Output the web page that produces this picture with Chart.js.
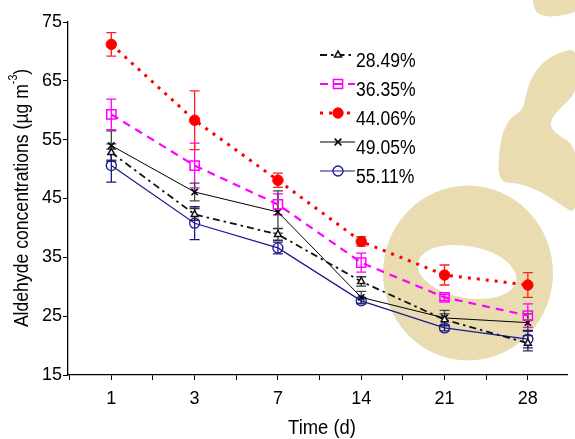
<!DOCTYPE html>
<html><head><meta charset="utf-8">
<script src="https://cdn.jsdelivr.net/npm/chart.js@4/dist/chart.umd.min.js"></script>
<style>html,body{margin:0;padding:0;background:#fff}#wrap{width:575px;height:439px}</style>
</head><body><div id="wrap"><canvas id="c" width="575" height="439"></canvas></div>
<script>
// ---- data ----
const days = ['1', '3', '7', '14', '21', '28'];
const seriesNames = ['28.49%', '36.35%', '44.06%', '49.05%', '55.11%'];
const v2849 = [52.8, 42.3, 38.9, 30.9, 24.4, 20.4];
const v3635 = [59.3, 50.6, 44.0, 34.1, 28.2, 25.1];
const v4406 = [71.2, 58.3, 48.1, 37.7, 32.0, 30.3];
const v4905 = [54.0, 46.1, 42.7, 28.2, 24.7, 23.9];
const v5511 = [50.6, 40.8, 36.6, 27.6, 23.0, 21.1];
const e2849 = [1.5, 1.0, 1.0, 0.8, 1.0, 1.3];
const e3635 = [2.6, 3.8, 1.8, 1.6, 0.5, 2.0];
const e4406 = [2.0, 5.0, 1.2, 0.8, 1.7, 2.1];
const e4905 = [2.5, 1.5, 3.6, 1.0, 1.3, 1.5];
const e5511 = [2.8, 2.8, 1.0, 0.5, 0.5, 1.5];
const yTicks = [15, 25, 35, 45, 55, 65, 75];

const FONT = '"Liberation Sans", Arial, sans-serif';
const toPts = arr => arr.map((y, i) => ({x: i, y: y}));

const styles = [
  {color: '#111111', width: 1.8, dash: [7, 4, 2.5, 4], point: 'triangle', r: 4, fill: '#ffffff', pbw: 1.5, ebar: '#333333'},
  {color: '#ff00ff', width: 2.2, dash: [8, 6], point: 'rect', r: 6.5, fill: 'rgba(0,0,0,0)', pbw: 1.5, ebar: '#ff00ff'},
  {color: '#ff0000', width: 3, dash: [3, 6], point: 'circle', r: 5.2, fill: '#ff0000', pbw: 1, ebar: '#ff2020'},
  {color: '#000000', width: 1, dash: [], point: 'crossRot', r: 4.5, fill: '#000000', pbw: 1.5, ebar: '#444444'},
  {color: '#1a1a8c', width: 1.2, dash: [], point: 'circle', r: 5, fill: 'rgba(0,0,0,0)', pbw: 1.3, ebar: '#1a1a8c'}
];
const values = [v2849, v3635, v4406, v4905, v5511];
const errors = [e2849, e3635, e4406, e4905, e5511];

const datasets = values.map((v, i) => ({
  label: seriesNames[i],
  data: toPts(v),
  errs: errors[i],
  borderColor: styles[i].color,
  borderWidth: styles[i].width,
  borderDash: styles[i].dash,
  pointStyle: styles[i].point,
  pointRadius: styles[i].r,
  pointBorderColor: styles[i].color,
  pointBackgroundColor: styles[i].fill,
  pointBorderWidth: styles[i].pbw,
  tension: 0,
  fill: false
}));

function drawMarker(ctx, st, x, y) {
  ctx.save();
  ctx.setLineDash([]);
  ctx.lineWidth = st.pbw;
  ctx.strokeStyle = st.color;
  ctx.fillStyle = st.fill;
  const r = st.r;
  ctx.beginPath();
  if (st.point === 'circle') {
    ctx.arc(x, y, r, 0, Math.PI * 2);
    ctx.fill(); ctx.stroke();
  } else if (st.point === 'rect') {
    const s = r * Math.SQRT1_2;
    ctx.rect(x - s, y - s, 2 * s, 2 * s);
    ctx.fill(); ctx.stroke();
  } else if (st.point === 'triangle') {
    ctx.moveTo(x, y - r);
    ctx.lineTo(x + r * 0.87, y + r * 0.5);
    ctx.lineTo(x - r * 0.87, y + r * 0.5);
    ctx.closePath();
    ctx.fill(); ctx.stroke();
  } else if (st.point === 'crossRot') {
    const s = r * 0.75;
    ctx.moveTo(x - s, y - s); ctx.lineTo(x + s, y + s);
    ctx.moveTo(x + s, y - s); ctx.lineTo(x - s, y + s);
    ctx.stroke();
  }
  ctx.restore();
}

function smoothPath(ctx, pts) {
  const n = pts.length;
  const mid = (a, b) => [(a[0] + b[0]) / 2, (a[1] + b[1]) / 2];
  let m0 = mid(pts[n - 1], pts[0]);
  ctx.moveTo(m0[0], m0[1]);
  for (let i = 0; i < n; i++) {
    const p = pts[i], q = pts[(i + 1) % n];
    const m = mid(p, q);
    ctx.quadraticCurveTo(p[0], p[1], m[0], m[1]);
  }
  ctx.closePath();
}

// narrow text: draw with horizontal squeeze
function narrowText(ctx, text, x, y, size, sx, align) {
  ctx.save();
  ctx.font = size + 'px ' + FONT;
  const w = ctx.measureText(text).width * sx;
  let left = x;
  if (align === 'center') left = x - w / 2;
  else if (align === 'right') left = x - w;
  ctx.translate(left, y);
  ctx.scale(sx, 1);
  ctx.textAlign = 'left';
  ctx.fillText(text, 0, 0);
  ctx.restore();
  return w;
}

const watermark = {
  id: 'watermark',
  beforeDraw(chart) {
    const ctx = chart.ctx;
    ctx.save();
    ctx.fillStyle = '#e9dcb1';
    ctx.beginPath();
    ctx.ellipse(468, 273, 85, 87.5, 0, 0, Math.PI * 2);
    ctx.ellipse(467, 272, 50, 26, 0.18, 0, Math.PI * 2);
    ctx.fill('evenodd');
    ctx.beginPath();
    smoothPath(ctx, [[578, 48], [560, 52], [544, 61], [532, 76], [526, 94], [523, 110], [511, 117], [503, 131], [499, 151], [498, 174], [504, 183], [518, 183], [540, 191], [560, 204], [578, 216],
      [578, 147], [556, 134], [549, 124], [556, 112], [578, 92]]);
    ctx.fill();
    ctx.beginPath();
    smoothPath(ctx, [[533, -4], [578, -4], [578, 12], [563, 15], [550, 17], [537, 14], [533, 5]]);
    ctx.fill();
    ctx.restore();
  }
};

const errorBars = {
  id: 'errorBars',
  beforeDatasetsDraw(chart) {
    const ctx = chart.ctx, xs = chart.scales.x, ys = chart.scales.y;
    chart.data.datasets.forEach((ds, i) => {
      ctx.save();
      ctx.strokeStyle = styles[i].ebar;
      ctx.lineWidth = 1.3;
      ctx.setLineDash([]);
      ds.data.forEach((p, j) => {
        const e = ds.errs[j];
        const x = xs.getPixelForValue(p.x);
        const yt = ys.getPixelForValue(p.y + e);
        const yb = ys.getPixelForValue(p.y - e);
        ctx.beginPath();
        ctx.moveTo(x, yt); ctx.lineTo(x, yb);
        ctx.moveTo(x - 5, yt); ctx.lineTo(x + 5, yt);
        ctx.moveTo(x - 5, yb); ctx.lineTo(x + 5, yb);
        ctx.stroke();
      });
      ctx.restore();
    });
  }
};

const legendAndTitles = {
  id: 'legendAndTitles',
  afterDraw(chart) {
    const ctx = chart.ctx;
    ctx.save();
    seriesNames.forEach((name, i) => {
      const st = styles[i];
      const y = 55 + 29 * i;
      ctx.save();
      ctx.strokeStyle = st.color;
      ctx.lineWidth = st.width;
      ctx.setLineDash(st.dash);
      ctx.beginPath();
      ctx.moveTo(320, y); ctx.lineTo(355, y);
      ctx.stroke();
      ctx.restore();
      drawMarker(ctx, st, 338, y);
      ctx.fillStyle = '#000';
      ctx.textBaseline = 'middle';
      narrowText(ctx, name, 356, y + 6, 20, 0.88, 'left');
    });
    ctx.fillStyle = '#000';
    ctx.textBaseline = 'middle';
    narrowText(ctx, 'Time (d)', 322, 428, 20, 0.92, 'center');
    // y title with superscript
    const main = 'Aldehyde concentrations (\u00b5g m';
    const sup = '-3';
    const close = ')';
    const sx = 0.88;
    ctx.font = '20px ' + FONT;
    const w1 = ctx.measureText(main).width * sx;
    const w3 = ctx.measureText(close).width * sx;
    ctx.font = '12px ' + FONT;
    const w2 = ctx.measureText(sup).width * sx;
    const total = w1 + w2 + w3;
    ctx.translate(22, 198);
    ctx.rotate(-Math.PI / 2);
    ctx.textBaseline = 'middle';
    const x0 = -total / 2;
    narrowText(ctx, main, x0, 0, 20, sx, 'left');
    narrowText(ctx, sup, x0 + w1, -8, 12, sx, 'left');
    narrowText(ctx, close, x0 + w1 + w2, 0, 20, sx, 'left');
    ctx.restore();
  }
};

new Chart(document.getElementById('c'), {
  type: 'line',
  data: {datasets: datasets},
  options: {
    responsive: false,
    animation: false,
    layout: {padding: {top: 22, right: 0, bottom: 0, left: 0}},
    plugins: {legend: {display: false}, tooltip: {enabled: false}},
    scales: {
      x: {
        type: 'linear',
        min: -0.52,
        max: 5.47,
        ticks: {
          stepSize: 0.5,
          includeBounds: false,
          autoSkip: false,
          maxRotation: 0,
          color: '#000',
          padding: 8,
          font: {family: FONT, size: 18},
          callback: (v) => Number.isInteger(v) ? days[v] : ''
        },
        grid: {drawOnChartArea: false, drawTicks: true, tickLength: 5, color: '#000', tickColor: '#000'},
        border: {color: '#000', width: 1.3},
        afterFit: s => { s.height = 64; }
      },
      y: {
        min: yTicks[0],
        max: yTicks[yTicks.length - 1],
        ticks: {
          stepSize: 10,
          color: '#000',
          padding: 1,
          font: {family: FONT, size: 18},
          callback: (v) => yTicks.includes(v) ? String(v) : ''
        },
        grid: {drawOnChartArea: false, drawTicks: true, tickLength: 5, color: '#000', tickColor: '#000'},
        border: {color: '#000', width: 1.3},
        afterFit: s => { s.width = 68; }
      }
    }
  },
  plugins: [watermark, errorBars, legendAndTitles]
});
</script>
</body></html>
